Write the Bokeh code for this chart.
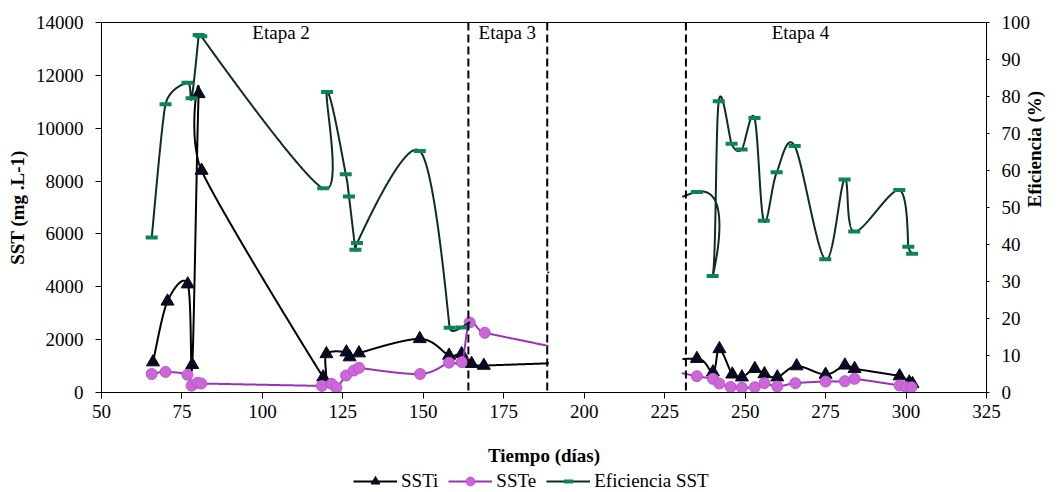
import math
import numpy as np
from bokeh.plotting import figure
from bokeh.layouts import column
from bokeh.models import (Range1d, LinearAxis, Legend, LegendItem, Span, Label,
                          FixedTicker)
from bokeh.embed import file_html
from bokeh.resources import INLINE

# ---------------- data ----------------
# SSTi (mg/L)
ssti_day = [66.0, 70.5, 76.8, 78.2, 80.2, 81.1, 118.9, 119.9, 126.1, 127.1, 130.0,
            148.9, 158.0, 161.9, 165.0, 168.8,
            235.0, 240.0, 242.0, 246.0, 249.0, 253.0, 256.0, 260.0, 266.0, 275.0,
            281.0, 284.0, 298.0, 301.0, 302.0]
ssti_val = [1150, 3450, 4100, 1050, 11300, 8400, 580, 1460, 1525, 1340, 1490,
            2030, 1400, 1460, 1090, 1020,
            1280, 770, 1650, 690, 580, 900, 700, 580, 1000, 680,
            1030, 900, 620, 390, 330]

# SSTe (mg/L)
sste_day = [65.6, 69.9, 76.7, 78.0, 79.8, 81.0, 118.5, 121.5, 123.0, 126.0, 128.4,
            130.0, 149.0, 158.0, 162.0, 164.4, 169.1,
            235.0, 240.0, 242.0, 245.5, 249.0, 253.0, 256.0, 260.0, 265.6, 275.0,
            281.0, 284.0, 298.0, 300.0, 301.7]
sste_val = [700, 780, 670, 260, 370, 340, 250, 330, 180, 643, 832,
            934, 700, 1130, 1150, 2650, 2260,
            617, 518, 340, 210, 180, 200, 352, 227, 352, 416,
            428, 518, 265, 202, 202]

# Eficiencia SST (%)
eff_day = [65.6, 69.9, 76.7, 78.0, 80.2, 81.0, 118.9, 120.1, 125.9, 126.9, 128.9,
           129.4, 148.9, 158.2, 161.9,
           235.0, 239.9, 241.8, 245.8, 248.9, 252.9, 255.8, 259.8, 265.4, 274.9,
           280.9, 283.9, 297.9, 300.7, 301.9]
eff_val = [41.9, 77.9, 83.7, 79.5, 96.6, 96.3, 55.2, 81.2, 59.0, 53.0, 38.6,
           40.4, 65.3, 17.5, 17.6,
           54.2, 31.5, 78.7, 67.2, 65.7, 74.2, 46.4, 59.5, 66.6, 36.0,
           57.6, 43.5, 54.7, 39.4, 37.5]

# stage boundaries (days) and stage labels
stage_bounds = [164.0, 188.5, 231.6]
stage_names = ["Etapa 2", "Etapa 3", "Etapa 4"]
stage_label_day = [105.8, 176.1, 267.2]

# day intervals where the original chart hides the lines
hidden_all = [(189.2, 230.3)]
hidden_eff = [(164.7, 188.4), (189.2, 230.3)]

x_range = (50, 325)
y_range = (0, 14000)
y2_range = (0, 100)
x_ticks = list(range(50, 326, 25))
y_ticks = list(range(0, 14001, 2000))
y2_ticks = list(range(0, 101, 10))

FONT = "Liberation Serif"
FRAME_W, FRAME_H = 889, 370


def smooth(xs, ys, yspan, hidden, n=200):
    """Excel-like smoothed line: Bezier with 1/6 tangents, limited on short
    segments; computed in screen proportions."""
    kx = FRAME_W / (x_range[1] - x_range[0])
    ky = FRAME_H / (yspan[1] - yspan[0])
    P = np.column_stack([np.asarray(xs, float) * kx, np.asarray(ys, float) * ky])
    n_pts = len(P)
    T = np.zeros_like(P)
    for i in range(n_pts):
        a = P[max(i - 1, 0)]
        b = P[min(i + 1, n_pts - 1)]
        v = (b - a) / 6.0
        L = np.hypot(*v)
        lim = []
        if i > 0:
            lim.append(np.hypot(*(P[i] - P[i - 1])) / 2.0)
        if i < n_pts - 1:
            lim.append(np.hypot(*(P[i + 1] - P[i])) / 2.0)
        m = min(lim)
        if L > m and L > 0:
            v = v * (m / L)
        T[i] = v
    t = np.linspace(0.0, 1.0, n)[:, None]
    out = []
    for i in range(n_pts - 1):
        p1, p2 = P[i], P[i + 1]
        c1 = p1 + T[i]
        c2 = p2 - T[i + 1]
        B = ((1 - t) ** 3) * p1 + 3 * ((1 - t) ** 2) * t * c1 + 3 * (1 - t) * t ** 2 * c2 + t ** 3 * p2
        out.append(B if i == n_pts - 2 else B[:-1])
    C = np.vstack(out)
    x = C[:, 0] / kx
    y = C[:, 1] / ky
    for a, b in hidden:
        msk = (x > a) & (x < b)
        y[msk] = np.nan
        x[msk] = np.nan
    return x, y


p = figure(width=1058, height=469, output_backend="svg",
           toolbar_location=None,
           x_range=Range1d(*x_range), y_range=Range1d(*y_range),
           min_border_left=101, min_border_right=68, min_border_top=22,
           min_border_bottom=77)
p.extra_y_ranges = {"eff": Range1d(*y2_range)}
p.xgrid.visible = False
p.ygrid.visible = False
p.outline_line_color = "#000000"
p.outline_line_width = 1
p.background_fill_color = "white"
p.border_fill_color = "white"

# axes
p.xaxis.ticker = FixedTicker(ticks=x_ticks)
p.yaxis.ticker = FixedTicker(ticks=y_ticks)
p.xaxis.axis_label = "Tiempo (días)"
p.yaxis.axis_label = "SST (mg .L-1)"
right = LinearAxis(y_range_name="eff", ticker=FixedTicker(ticks=y2_ticks),
                   axis_label="Eficiencia (%)")
p.add_layout(right, "right")

for ax in [p.xaxis[0], p.yaxis[0], right]:
    ax.axis_line_color = "black"
    ax.axis_line_width = 1
    ax.major_tick_line_color = "black"
    ax.major_tick_in = 0
    ax.minor_tick_line_color = None
    ax.major_label_text_font = FONT
    ax.major_label_text_font_size = "19px"
    ax.major_label_text_color = "black"
    ax.axis_label_text_font = FONT
    ax.axis_label_text_font_size = "19px"
    ax.axis_label_text_font_style = "bold"
    ax.axis_label_text_color = "black"

p.xaxis.major_tick_out = 6
p.xaxis.major_label_standoff = 6
p.xaxis.axis_label_standoff = 24
p.yaxis.major_tick_out = 6
p.yaxis.major_label_standoff = 12
p.yaxis.axis_label_standoff = 5
right.major_tick_out = 3
right.major_label_standoff = 12
right.axis_label_standoff = 1
right.axis_label_orientation = math.pi / 2

# series
sx, sy = smooth(ssti_day, ssti_val, y_range, hidden_all)
p.line(sx, sy, line_color="#000000", line_width=2)
p.scatter(ssti_day, ssti_val, marker="triangle", size=13,
          fill_color="#0a0a1e", line_color="#0a0a1e")

ex, ey = smooth(sste_day, sste_val, y_range, hidden_all)
p.line(ex, ey, line_color="#9a32b8", line_width=2)
p.scatter(sste_day, sste_val, marker="circle", size=11,
          fill_color="#cc66d9", line_color="#bb55cc")

fx, fy = smooth(eff_day, eff_val, y2_range, hidden_eff)
p.line(fx, fy, line_color="#0c2e22", line_width=2, y_range_name="eff")
p.scatter(eff_day, eff_val, marker="dash", size=12, line_width=4,
          line_color="#0a8458", y_range_name="eff")

# stage separators and labels
for d in stage_bounds:
    p.add_layout(Span(location=d, dimension="height", line_color="black",
                      line_width=2, line_dash="8 4"))
for name, d in zip(stage_names, stage_label_day):
    p.add_layout(Label(x=d, y=13620, text=name, text_align="center",
                       text_baseline="middle", text_font=FONT,
                       text_font_size="19px", text_color="black"))

# ---------- legend strip below ----------
lf = figure(width=1058, height=23, output_backend="svg", toolbar_location=None,
            x_range=Range1d(0, 1), y_range=Range1d(0, 1), min_border=0)
lf.axis.visible = False
lf.xgrid.visible = False
lf.ygrid.visible = False
lf.outline_line_color = None
off = [-5.0]  # off-screen anchor so that the legend swatches get drawn
g1 = lf.line(off, off, line_color="#000000", line_width=2)
g1m = lf.scatter(off, off, marker="triangle", size=12, fill_color="#0a0a1e",
                 line_color="#0a0a1e")
g2 = lf.line(off, off, line_color="#9a32b8", line_width=2)
g2m = lf.scatter(off, off, marker="circle", size=11, fill_color="#cc66d9",
                 line_color="#bb55cc")
g3 = lf.line(off, off, line_color="#0c2e22", line_width=2)
g3m = lf.scatter(off, off, marker="dash", size=12, line_width=4,
                 line_color="#0a8458")
legend = Legend(items=[LegendItem(label="SSTi", renderers=[g1, g1m]),
                       LegendItem(label="SSTe", renderers=[g2, g2m]),
                       LegendItem(label="Eficiencia SST", renderers=[g3, g3m])],
                orientation="horizontal", location=(252, 0))
legend.label_text_font = FONT
legend.label_text_font_size = "19px"
legend.label_text_color = "black"
legend.glyph_width = 44
legend.glyph_height = 22
legend.label_standoff = 4
legend.spacing = 10
legend.padding = 0
legend.margin = 0
legend.border_line_color = None
legend.background_fill_alpha = 0
lf.add_layout(legend, "center")

layout = column(p, lf, spacing=0)
open("out.html", "w").write(file_html(layout, INLINE))
